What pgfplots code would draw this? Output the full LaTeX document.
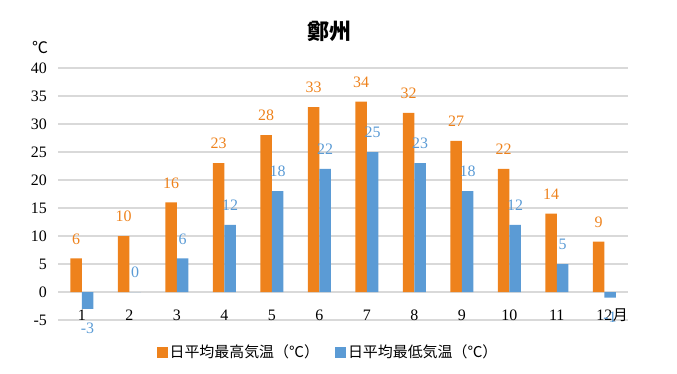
\documentclass[border=0pt]{standalone}
\usepackage{pgfplots}
\pgfplotsset{compat=1.18}
\usepackage{fontspec}
\setmainfont{Liberation Serif}
\newfontfamily\cjk{Noto Sans CJK JP}
\definecolor{hi}{RGB}{238,130,28}
\definecolor{lo}{RGB}{91,155,213}
\definecolor{gridc}{RGB}{217,217,217}
\begin{document}
\begin{tikzpicture}
\path (0,0) rectangle (677bp,374bp);
\begin{axis}[
  at={(58bp,54bp)}, anchor=south west,
  scale only axis, width=570bp, height=252bp,
  xmin=0.5, xmax=12.5, ymin=-5, ymax=40,
  ybar=0pt, bar width=11.5bp,
  axis line style={draw=none},
  major tick length=0pt,
  xtick={1,...,12},
  ytick={-5,0,...,40},
  ymajorgrids, grid style={gridc, line width=1.2bp},
  /pgf/number format/assume math mode=true,
  tick label style={font=\fontsize{16}{16}\selectfont},
  xticklabel style={anchor=center, yshift=5bp},
  yticklabel style={inner xsep=0pt, xshift=-11bp},
  clip=false,
  nodes near coords,
  every node near coord/.append style={font=\fontsize{16}{16}\selectfont, inner ysep=14bp, inner xsep=0pt},
  legend columns=2,
  legend style={at={(0.4737,-0.127)}, anchor=center, draw=none, fill=none,
    font=\cjk\fontsize{15}{15}\selectfont,
    /tikz/every even column/.append style={column sep=14bp}},
  legend cell align=left,
]
\addplot[fill=hi, draw=none, every node near coord/.append style={text=hi},
  legend image code/.code={\fill[hi] (-5bp,-5.5bp) rectangle (6bp,5.5bp);}]
  coordinates {(1,6) (2,10) (3,16) (4,23) (5,28) (6,33) (7,34) (8,32) (9,27) (10,22) (11,14) (12,9)};
\addlegendentry{日平均最高気温（℃）}
\addplot[fill=lo, draw=none, every node near coord/.append style={text=lo},
  legend image code/.code={\fill[lo] (-5bp,-5.5bp) rectangle (6bp,5.5bp);}]
  coordinates {(1,-3) (2,0) (3,6) (4,12) (5,18) (6,22) (7,25) (8,23) (9,18) (10,12) (11,5) (12,-1)};
\addlegendentry{日平均最低気温（℃）}
\node[font=\cjk\fontsize{15}{15}\selectfont] at (axis cs:12.34,-4.1) {月};
\end{axis}
\node[font=\cjk\bfseries\fontsize{22}{22}\selectfont] at (329bp,343bp) {鄭州};
\node[font=\cjk\fontsize{16}{16}\selectfont] at (40bp,326bp) {℃};
\end{tikzpicture}
\end{document}
